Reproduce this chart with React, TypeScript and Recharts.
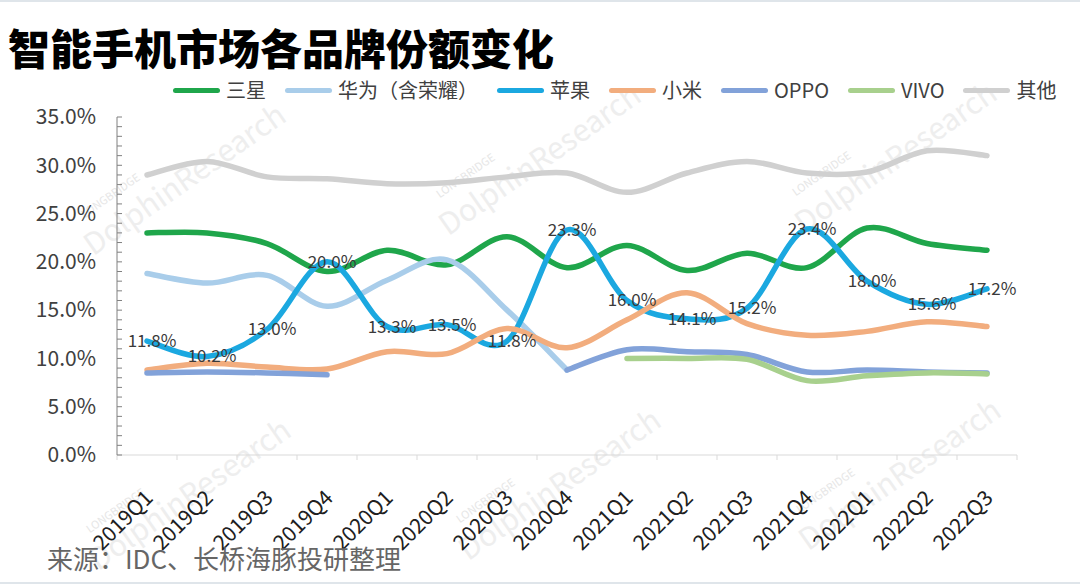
import React from 'react';
import {
  LineChart,
  Line,
  XAxis,
  YAxis,
  Legend,
  LabelList,
} from 'recharts';

const quarters = [
  '2019Q1', '2019Q2', '2019Q3', '2019Q4',
  '2020Q1', '2020Q2', '2020Q3', '2020Q4',
  '2021Q1', '2021Q2', '2021Q3', '2021Q4',
  '2022Q1', '2022Q2', '2022Q3',
];

const samsung = [23.0, 23.0, 21.9, 19.0, 21.2, 19.7, 22.6, 19.4, 21.7, 19.1, 20.9, 19.4, 23.5, 21.9, 21.2];
const huawei = [18.8, 17.8, 18.6, 15.4, 18.1, 20.2, 15.0, 8.8, null, null, null, null, null, null, null];
const apple = [11.8, 10.2, 13.0, 20.0, 13.3, 13.5, 11.8, 23.3, 16.0, 14.1, 15.2, 23.4, 18.0, 15.6, 17.2];
const xiaomi = [8.8, 9.5, 9.1, 8.9, 10.7, 10.5, 13.1, 11.1, 14.0, 16.8, 13.6, 12.4, 12.8, 13.8, 13.3];
const oppo = [8.5, 8.6, 8.5, 8.3, null, null, null, 8.8, 10.9, 10.7, 10.4, 8.6, 8.8, 8.6, 8.5];
const vivo = [null, null, null, null, null, null, null, null, 10.0, 10.0, 9.9, 7.7, 8.2, 8.5, 8.4];
const others = [29.0, 30.4, 28.8, 28.6, 28.1, 28.2, 28.8, 29.2, 27.2, 29.2, 30.4, 29.2, 29.3, 31.5, 31.0];

const yTicks = Array.from({ length: 36 }, (_, i) => i);

// faint "DolphinResearch" watermarks behind the chart
const watermarks = [
  [185, 180], [540, 160], [896, 158],
  [190, 495], [560, 485], [900, 475],
];

const SERIES = [
  { key: 'samsung', name: '三星', color: '#1fa64b' },
  { key: 'huawei', name: '华为（含荣耀）', color: '#a9cdea' },
  { key: 'apple', name: '苹果', color: '#1ba8e0' },
  { key: 'xiaomi', name: '小米', color: '#f2ad7e' },
  { key: 'oppo', name: 'OPPO', color: '#82a2d9' },
  { key: 'vivo', name: 'VIVO', color: '#a8d08d' },
  { key: 'others', name: '其他', color: '#d0d0d0' },
];

const data = quarters.map((q, i) => ({
  q,
  samsung: samsung[i],
  huawei: huawei[i],
  apple: apple[i],
  xiaomi: xiaomi[i],
  oppo: oppo[i],
  vivo: vivo[i],
  others: others[i],
}));

const FONT = '"Noto Sans CJK SC", "Noto Sans", sans-serif';
const STEP = 60;

// Excel-like smoothed line (Catmull-Rom as cubic beziers)
const excelCurve = (context: any) => {
  let pts: number[][] = [];
  return {
    areaStart() {},
    areaEnd() {},
    lineStart() {
      pts = [];
    },
    lineEnd() {
      const n = pts.length;
      if (!n) return;
      context.moveTo(pts[0][0], pts[0][1]);
      if (n === 1) {
        context.lineTo(pts[0][0], pts[0][1]);
        return;
      }
      for (let i = 0; i < n - 1; i++) {
        const p0 = pts[Math.max(i - 1, 0)];
        const p1 = pts[i];
        const p2 = pts[i + 1];
        const p3 = pts[Math.min(i + 2, n - 1)];
        context.bezierCurveTo(
          p1[0] + (p2[0] - p0[0]) / 6,
          p1[1] + (p2[1] - p0[1]) / 6,
          p2[0] - (p3[0] - p1[0]) / 6,
          p2[1] - (p3[1] - p1[1]) / 6,
          p2[0],
          p2[1],
        );
      }
    },
    point(x: number, y: number) {
      pts.push([x, y]);
    },
  };
};

const YTick = (props: any) => {
  const { x, y, payload } = props;
  const v = payload.value;
  return (
    <g>
      <line x1={x} x2={x + 5} y1={y} y2={y} stroke="#808080" strokeWidth={1} />
      {v % 5 === 0 && (
        <text
          x={x - 21}
          y={y}
          dy="0.35em"
          textAnchor="end"
          fontFamily={FONT}
          fontSize={21}
          fill="#404040"
        >
          {v.toFixed(1)}%
        </text>
      )}
    </g>
  );
};

const XTick = (props: any) => {
  const { x, y, payload, index } = props;
  const tx = x + 2;
  const ty = y + 39;
  return (
    <g>
      <line x1={x - STEP / 2} x2={x - STEP / 2} y1={y} y2={y + 5} stroke="#d9d9d9" />
      {index === quarters.length - 1 && (
        <line x1={x + STEP / 2} x2={x + STEP / 2} y1={y} y2={y + 5} stroke="#d9d9d9" />
      )}
      <text
        x={tx}
        y={ty}
        dy="0.35em"
        textAnchor="end"
        transform={`rotate(-45, ${tx}, ${ty})`}
        fontFamily={FONT}
        fontSize={21}
        fill="#202020"
      >
        {payload.value}
      </text>
    </g>
  );
};

const PctLabel = (props: any) => {
  const { x, y, value } = props;
  if (value == null) return null;
  return (
    <text
      x={x + 5}
      y={y}
      dy="0.35em"
      textAnchor="middle"
      fontFamily={FONT}
      fontSize={17}
      fill="#3a3a3a"
    >
      {Number(value).toFixed(1)}%
    </text>
  );
};

const LegendContent = () => (
  <div
    style={{
      display: 'flex',
      alignItems: 'center',
      paddingLeft: 173,
      fontFamily: FONT,
      fontSize: 20,
      color: '#404040',
      lineHeight: '24px',
    }}
  >
    {SERIES.map((s) => (
      <div key={s.key} style={{ display: 'flex', alignItems: 'center', marginRight: 19 }}>
        <span
          style={{
            display: 'inline-block',
            width: 47,
            height: 5,
            borderRadius: 3,
            background: s.color,
            marginRight: 6,
          }}
        />
        <span>{s.name}</span>
      </div>
    ))}
  </div>
);

export default function App() {
  return (
    <div
      style={{
        position: 'absolute',
        left: 0,
        top: 0,
        width: 1080,
        height: 584,
        background: '#fff',
        overflow: 'hidden',
        boxSizing: 'border-box',
        borderTop: '2px solid #dfe5ea',
        borderBottom: '2px solid #dfe5ea',
      }}
    >
      <svg
        width={1080}
        height={584}
        style={{ position: 'absolute', left: 0, top: -2 }}
      >
        {watermarks.map(([cx, cy], i) => (
          <g key={i} transform={`rotate(-35, ${cx}, ${cy})`}>
            <text
              x={cx - 70}
              y={cy - 26}
              fontFamily={FONT}
              fontSize={11}
              fill="#e6e6e6"
              textAnchor="middle"
            >
              LONGBRIDGE
            </text>
            <text
              x={cx}
              y={cy + 10}
              fontFamily={FONT}
              fontSize={30}
              fill="#eeeeee"
              textAnchor="middle"
            >
              DolphinResearch
            </text>
          </g>
        ))}
      </svg>
      <div
        style={{
          position: 'absolute',
          left: 8,
          top: 22,
          fontFamily: FONT,
          fontWeight: 900,
          fontSize: 42,
          lineHeight: '46px',
          color: '#000',
          whiteSpace: 'nowrap',
        }}
      >
        智能手机市场各品牌份额变化
      </div>
      <div style={{ position: 'absolute', left: 0, top: -2 }}>
        <LineChart
          width={1080}
          height={584}
          data={data}
          margin={{ top: 117, right: 63, bottom: 29, left: 57 }}
        >
          <XAxis
            dataKey="q"
            padding={{ left: 30, right: 30 }}
            axisLine={{ stroke: '#d9d9d9' }}
            tickLine={false}
            tickSize={0}
            tickMargin={0}
            interval={0}
            height={100}
            tick={<XTick />}
          />
          <YAxis
            domain={[0, 35]}
            ticks={yTicks}
            interval={0}
            width={60}
            axisLine={{ stroke: '#808080' }}
            tickLine={false}
            tickSize={0}
            tickMargin={0}
            tick={<YTick />}
          />
          <Legend
            verticalAlign="middle"
            align="center"
            layout="horizontal"
            wrapperStyle={{ top: 78, left: 0, width: 1080 }}
            content={<LegendContent />}
          />
          {SERIES.map((s) => (
            <Line
              key={s.key}
              dataKey={s.key}
              name={s.name}
              type={excelCurve as any}
              stroke={s.color}
              strokeWidth={5.5}
              strokeLinecap="round"
              dot={false}
              activeDot={false}
              connectNulls={false}
              isAnimationActive={false}
            >
              {s.key === 'apple' && <LabelList dataKey="apple" content={<PctLabel />} />}
            </Line>
          ))}
        </LineChart>
      </div>
      <div
        style={{
          position: 'absolute',
          left: 47,
          top: 540,
          fontFamily: FONT,
          fontSize: 26,
          lineHeight: '32px',
          color: '#666',
          whiteSpace: 'nowrap',
        }}
      >
        来源：IDC、长桥海豚投研整理
      </div>
    </div>
  );
}
